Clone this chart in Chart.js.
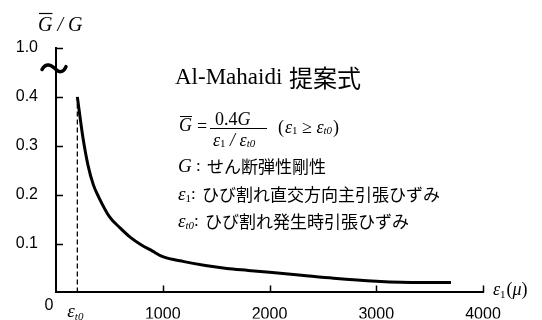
<!DOCTYPE html>
<html>
<head>
<meta charset="utf-8">
<script src="https://cdn.jsdelivr.net/npm/chart.js@4"></script>
<style>
  body { margin: 0; background: #fff; }
  #wrap { width: 542px; height: 320px; }
</style>
</head>
<body>
<div id="wrap"><canvas id="shear-graph"></canvas></div>
<script>
// 主引張ひずみ ε1 (μ) と せん断剛性低減率 G/G
var strain = [200, 250, 300, 350, 400, 500, 600, 700, 800, 900, 1000, 1200, 1400, 1600, 1800, 2000, 2300, 2600, 3000, 3400, 3700]
var ratio = [0.40, 0.32, 0.26, 0.22, 0.195, 0.155, 0.132, 0.112, 0.097, 0.085, 0.073, 0.063, 0.055, 0.049, 0.045, 0.041, 0.035, 0.029, 0.023, 0.020, 0.020]

// ひび割れ発生時ひずみ εt0 の縦線
var crackStrain = [200, 200]
var crackRatio = [0, 0.4]

// 軸の目盛 (0.5 の位置は省略記号の上の 1.0)
var xTicks = [1000, 2000, 3000, 4000]
var yTicks = [0.1, 0.2, 0.3, 0.4, 0.5]
var yTickLabels = ['0.1', '0.2', '0.3', '0.4', '1.0']

var SERIF = "'Liberation Serif', 'Times New Roman', serif"
var SANS = "'Liberation Sans', Arial, sans-serif"
var JP = "'Noto Sans CJK JP', sans-serif"

function text(ctx, str, x, y, font, align) {
    ctx.font = font
    ctx.textAlign = align || 'left'
    ctx.textBaseline = 'middle'
    ctx.fillText(str, x, y)
    return x + ctx.measureText(str).width
}

var decor = {
    id: 'decor',
    afterDraw: function(chart) {
        var ctx = chart.ctx
        var xs = chart.scales.x
        var ys = chart.scales.y
        var x0 = xs.getPixelForValue(0)
        var y0 = ys.getPixelForValue(0)
        ctx.save()
        ctx.fillStyle = '#000'
        ctx.strokeStyle = '#000'

        // 内向きの目盛線
        ctx.lineWidth = 1.5
        ctx.beginPath()
        yTicks.forEach(function(v) {
            var py = Math.round(ys.getPixelForValue(v)) + 0.5
            ctx.moveTo(x0, py)
            ctx.lineTo(x0 + 7, py)
        })
        xTicks.forEach(function(v) {
            var px = Math.round(xs.getPixelForValue(v)) + 0.5
            ctx.moveTo(px, y0)
            ctx.lineTo(px, y0 - 7)
        })
        ctx.stroke()

        // 縦軸の省略記号
        var by = ys.getPixelForValue(0.458)
        ctx.lineWidth = 3.5
        ctx.lineCap = 'round'
        ctx.beginPath()
        ctx.moveTo(x0 - 14, by + 1)
        ctx.bezierCurveTo(x0 - 10, by - 6, x0 - 5, by - 4, x0, by + 1)
        ctx.bezierCurveTo(x0 + 4, by + 5, x0 + 8, by + 3, x0 + 10, by - 2)
        ctx.stroke()
        ctx.lineCap = 'butt'

        // 原点と軸ラベル
        text(ctx, '0', x0 - 7, y0 + 13, '16px ' + SANS, 'center')
        var ex = xs.getPixelForValue(crackStrain[0])
        var nx = text(ctx, 'ε', ex - 10, y0 + 20, 'italic 19px ' + SERIF)
        text(ctx, 't0', nx, y0 + 25, 'italic 11px ' + SERIF)

        var ax = xs.right + 10
        nx = text(ctx, 'ε', ax, y0 - 2, 'italic 18px ' + SERIF)
        nx = text(ctx, '1', nx, y0 + 3, '11px ' + SERIF)
        nx = text(ctx, '(', nx + 1, y0 - 2, '18px ' + SERIF)
        nx = text(ctx, 'μ', nx, y0 - 2, 'italic 18px ' + SERIF)
        text(ctx, ')', nx, y0 - 2, '18px ' + SERIF)

        // 縦軸タイトル G/G
        nx = text(ctx, 'G', 38, 26, 'italic 20px ' + SERIF)
        ctx.lineWidth = 1.2
        ctx.beginPath()
        ctx.moveTo(39, 13.5)
        ctx.lineTo(nx, 13.5)
        ctx.stroke()
        text(ctx, ' / G', nx, 26, 'italic 20px ' + SERIF)

        // 提案式
        nx = text(ctx, 'Al-Mahaidi ', 175, 78, '23px ' + SERIF)
        text(ctx, '提案式', nx + 1, 78, '24px ' + JP)

        // G = 0.4G / (ε1/εt0)
        nx = text(ctx, 'G', 179, 126, 'italic 18px ' + SERIF)
        ctx.lineWidth = 1
        ctx.beginPath()
        ctx.moveTo(180, 116.5)
        ctx.lineTo(nx, 116.5)
        ctx.moveTo(210, 128.5)
        ctx.lineTo(267, 128.5)
        ctx.stroke()
        text(ctx, '=', 202, 127, '18px ' + SERIF, 'center')
        nx = text(ctx, '0.4', 215, 120, '18px ' + SERIF)
        text(ctx, 'G', nx, 120, 'italic 18px ' + SERIF)
        nx = text(ctx, 'ε', 213, 141, 'italic 18px ' + SERIF)
        nx = text(ctx, '1', nx, 144, '11px ' + SERIF)
        nx = text(ctx, ' / ', nx, 141, 'italic 18px ' + SERIF)
        nx = text(ctx, 'ε', nx, 141, 'italic 18px ' + SERIF)
        text(ctx, 't0', nx, 144, 'italic 11px ' + SERIF)

        nx = text(ctx, '(', 278, 128, '18px ' + SERIF)
        nx = text(ctx, 'ε', nx + 1, 128, 'italic 18px ' + SERIF)
        nx = text(ctx, '1', nx, 131, '11px ' + SERIF)
        nx = text(ctx, ' ≥ ', nx, 128, '18px ' + SERIF)
        nx = text(ctx, 'ε', nx, 128, 'italic 18px ' + SERIF)
        nx = text(ctx, 't0', nx, 131, 'italic 11px ' + SERIF)
        text(ctx, ')', nx + 1, 128, '18px ' + SERIF)

        // 記号の説明
        text(ctx, 'G', 178, 167, 'italic 19px ' + SERIF)
        text(ctx, ':', 196, 167, '17px ' + SERIF)
        text(ctx, 'せん断弾性剛性', 207, 167, '17px ' + JP)

        nx = text(ctx, 'ε', 178, 195, 'italic 19px ' + SERIF)
        nx = text(ctx, '1', nx, 199, '11px ' + SERIF)
        text(ctx, ':', nx, 195, '17px ' + SERIF)
        text(ctx, 'ひび割れ直交方向主引張ひずみ', 202, 195, '17px ' + JP)

        nx = text(ctx, 'ε', 178, 222, 'italic 19px ' + SERIF)
        nx = text(ctx, 't0', nx, 226, 'italic 11px ' + SERIF)
        text(ctx, ':', nx, 222, '17px ' + SERIF)
        text(ctx, 'ひび割れ発生時引張ひずみ', 205, 222, '17px ' + JP)

        ctx.restore()
    }
}

var ctx = document.getElementById('shear-graph').getContext('2d')

var chart = new Chart(ctx, {
    type: 'scatter',
    data: {
        datasets: [{
            data: strain.map(function(s, i) { return { x: s, y: ratio[i] } }),
            showLine: true,
            borderColor: '#000',
            borderWidth: 3,
            pointRadius: 0,
            cubicInterpolationMode: 'monotone'
        }, {
            data: crackStrain.map(function(s, i) { return { x: s, y: crackRatio[i] } }),
            showLine: true,
            borderColor: '#000',
            borderWidth: 1.3,
            borderDash: [5, 3],
            pointRadius: 0
        }]
    },
    options: {
        responsive: true,
        maintainAspectRatio: false,
        animation: false,
        layout: {
            padding: { top: 48, right: 59, left: 0, bottom: 0 }
        },
        scales: {
            x: {
                type: 'linear',
                min: 0,
                max: 4000,
                afterFit: function(scale) { scale.height = 26 },
                afterBuildTicks: function(scale) {
                    scale.ticks = [0].concat(xTicks).map(function(v) { return { value: v } })
                },
                grid: { display: false, drawTicks: false },
                border: { display: true, color: '#000', width: 2 },
                ticks: {
                    color: '#000',
                    padding: 13,
                    maxRotation: 0,
                    font: { family: SANS, size: 16 },
                    callback: function(v) { return v === 0 ? '' : String(v) }
                }
            },
            y: {
                type: 'linear',
                min: 0,
                max: 0.5,
                afterFit: function(scale) { scale.width = 56 },
                afterBuildTicks: function(scale) {
                    scale.ticks = [0].concat(yTicks).map(function(v) { return { value: v } })
                },
                grid: { display: false, drawTicks: false },
                border: { display: true, color: '#000', width: 2 },
                ticks: {
                    color: '#000',
                    padding: 18,
                    font: { family: SANS, size: 16 },
                    callback: function(v) {
                        var i = yTicks.findIndex(function(t) { return Math.abs(t - v) < 1e-6 })
                        return i < 0 ? '' : yTickLabels[i]
                    }
                }
            }
        },
        plugins: {
            legend: { display: false },
            tooltip: { enabled: false }
        }
    },
    plugins: [decor]
})
</script>
</body>
</html>
